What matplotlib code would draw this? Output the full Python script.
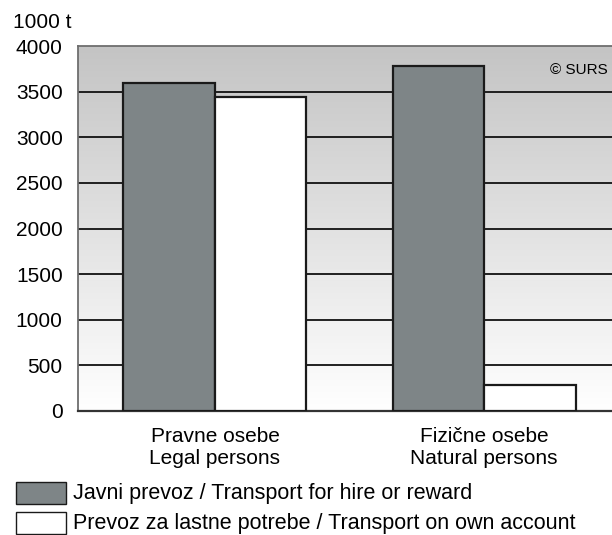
import numpy as np
import matplotlib.pyplot as plt
from matplotlib.patches import Rectangle
from matplotlib.colors import LinearSegmentedColormap

plt.rcParams['font.family'] = ['Liberation Sans', 'DejaVu Sans']

categories = ['Pravne osebe\nLegal persons', 'Fizične osebe\nNatural persons']
hire = [3600, 3780]
own = [3445, 280]
series_names = ['Javni prevoz / Transport for hire or reward',
                'Prevoz za lastne potrebe / Transport on own account']

gray = '#7e8587'
W, H = 612, 535

fig = plt.figure(figsize=(W / 100, H / 100), dpi=100)
# axes run a bit past the right edge, as in the cropped original
ax = fig.add_axes([78 / W, 1 - 411 / H, 543 / W, 365 / H])

x = np.arange(len(categories))
w = 0.34
x0, x1 = -0.509, 1.509

# grey-to-white gradient background
grad = np.linspace(0, 1, 256).reshape(-1, 1)
cm = LinearSegmentedColormap.from_list('g', ['#c4c4c4', '#ffffff'])
ax.imshow(grad, cmap=cm, extent=[x0, x1, 0, 4000], aspect='auto', zorder=0)

ax.set_xlim(x0, x1)
ax.set_ylim(0, 4000)

for yv in range(500, 4000, 500):
    ax.axhline(yv, color='#111111', lw=1.3, zorder=1)

ax.bar(x - w / 2, hire, w, color=gray, edgecolor='#1a1a1a', lw=1.6, zorder=3)
ax.bar(x + w / 2, own, w, color='white', edgecolor='#1a1a1a', lw=1.6, zorder=3)

ax.set_yticks(range(0, 4001, 500))
ax.tick_params(axis='y', length=0, pad=11, labelsize=15)
ax.set_xticks(x)
ax.set_xticklabels(categories, fontsize=15, linespacing=1.2)
ax.tick_params(axis='x', length=0, pad=11.5)

for s in ['top', 'left', 'right']:
    ax.spines[s].set_color('#6e6e6e')
    ax.spines[s].set_linewidth(1.3)
ax.spines['bottom'].set_color('#333333')
ax.spines['bottom'].set_linewidth(1.6)

fig.text(13 / W, 1 - 22 / H, '1000 t', fontsize=15, va='center', ha='left')
fig.text(608 / W, 1 - 70 / H, '© SURS', fontsize=11, ha='right', va='center')

# legend below the chart
colors = [gray, 'white']
for i, (name, c) in enumerate(zip(series_names, colors)):
    top = 482 + 30 * i
    fig.patches.append(Rectangle((16 / W, 1 - (top + 22) / H), 50 / W, 22 / H,
                                 transform=fig.transFigure, facecolor=c,
                                 edgecolor='#1a1a1a', lw=1.0))
    fig.text(73 / W, 1 - (top + 12) / H, name, fontsize=15.5, va='center', ha='left')

fig.savefig('out.png', dpi=100)
